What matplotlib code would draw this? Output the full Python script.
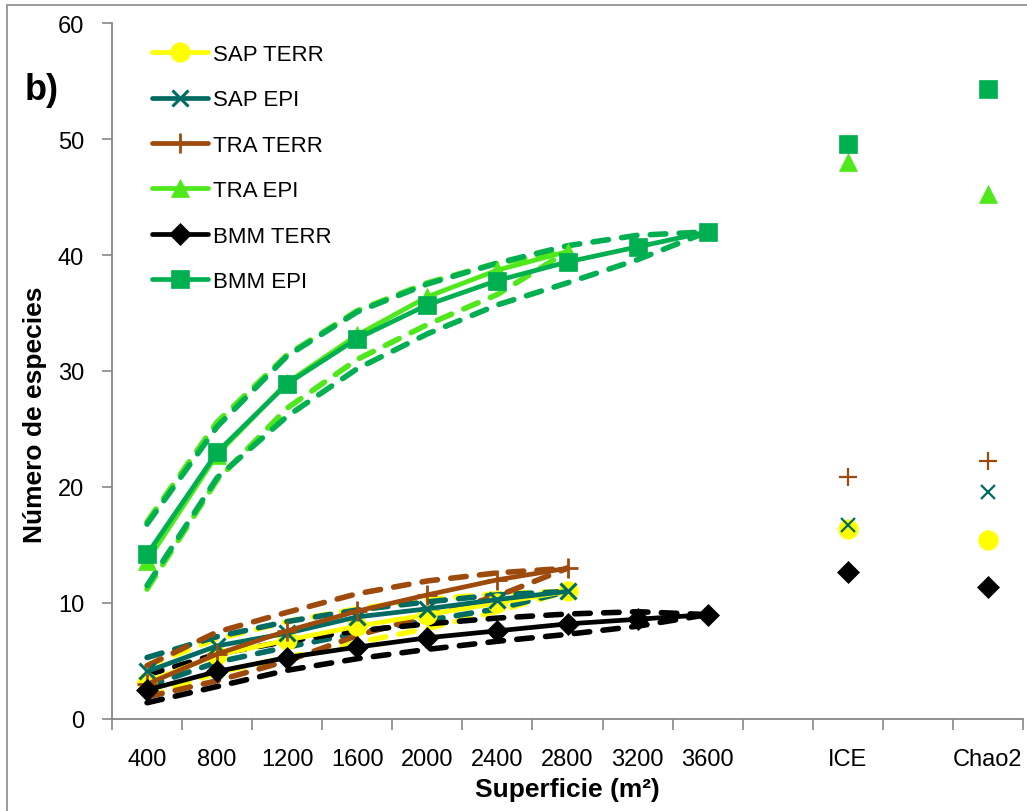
import matplotlib
matplotlib.use("Agg")
import matplotlib.pyplot as plt
from matplotlib.patches import Rectangle

plt.rcParams["font.family"] = ["Liberation Sans", "DejaVu Sans"]

# ── Data ──────────────────────────────────────────────────────────────────
categories = ["400", "800", "1200", "1600", "2000", "2400", "2800",
              "3200", "3600", "", "ICE", "", "Chao2"]
ice_pos, chao_pos = 10, 12

series_names = ["SAP TERR", "SAP EPI", "TRA TERR", "TRA EPI", "BMM TERR", "BMM EPI"]

sap_terr       = [3.2, 5.5, 6.8, 8.0, 9.0, 10.0, 11.0]
sap_terr_upper = [4.6, 6.9, 8.4, 9.5, 10.3, 10.8, 11.0]
sap_terr_lower = [1.9, 4.0, 5.3, 6.6, 7.8, 9.3, 11.0]

sap_epi       = [4.1, 6.3, 7.4, 8.8, 9.5, 10.3, 11.0]
sap_epi_upper = [5.3, 7.1, 8.4, 9.4, 10.1, 10.7, 11.0]
sap_epi_lower = [2.8, 4.9, 6.2, 7.4, 8.5, 9.5, 11.0]

tra_terr       = [3.0, 5.6, 7.6, 9.3, 10.7, 12.0, 13.0]
tra_terr_upper = [4.6, 7.5, 9.2, 10.8, 11.9, 12.6, 13.0]
tra_terr_lower = [1.9, 3.3, 5.0, 7.2, 8.9, 10.6, 13.0]

tra_epi       = [13.6, 22.8, 29.0, 33.1, 36.4, 38.7, 40.3]
tra_epi_upper = [17.0, 25.6, 31.4, 35.2, 37.6, 39.3, 40.3]
tra_epi_lower = [11.2, 20.6, 26.8, 31.0, 34.0, 36.6, 40.3]

bmm_terr       = [2.5, 4.1, 5.3, 6.2, 7.0, 7.6, 8.2, 8.6, 9.0]
bmm_terr_upper = [3.8, 5.6, 6.7, 7.6, 8.2, 8.7, 9.05, 9.25, 9.0]
bmm_terr_lower = [1.4, 2.8, 4.2, 5.2, 6.0, 6.7, 7.3, 8.0, 9.0]

bmm_epi       = [14.2, 23.0, 28.9, 32.8, 35.7, 37.8, 39.4, 40.7, 42.0]
bmm_epi_upper = [16.8, 25.2, 31.3, 35.1, 37.5, 39.3, 40.8, 41.7, 42.0]
bmm_epi_lower = [11.5, 20.8, 26.1, 30.2, 33.2, 35.7, 37.6, 39.6, 42.0]

# estimators, same order as series_names
ice_values   = [16.4, 16.7, 20.9, 48.0, 12.7, 49.6]
chao2_values = [15.4, 19.6, 22.2, 45.3, 11.4, 54.3]

# ── Style ─────────────────────────────────────────────────────────────────
COLORS  = ["#FFFF00", "#006B63", "#9E4A0C", "#4FE81A", "#000000", "#00B050"]
MARKERS = ["o", "x", "+", "^", "D", "s"]
MSIZES  = [14, 12, 15, 13, 11, 13]
MEWS    = [0, 2.2, 2.0, 0, 0, 0]
AXIS_COL = "#878787"

means  = [sap_terr, sap_epi, tra_terr, tra_epi, bmm_terr, bmm_epi]
uppers = [sap_terr_upper, sap_epi_upper, tra_terr_upper, tra_epi_upper,
          bmm_terr_upper, bmm_epi_upper]
lowers = [sap_terr_lower, sap_epi_lower, tra_terr_lower, tra_epi_lower,
          bmm_terr_lower, bmm_epi_lower]

fig = plt.figure(figsize=(10.27, 8.12), dpi=100)
ax = fig.add_axes([112 / 1027, 1 - 720 / 812, 911 / 1027, 696 / 812])

# dashed confidence bands first
for col, up, lo in zip(COLORS, uppers, lowers):
    for band in (up, lo):
        ax.plot(range(len(band)), band, color=col, lw=4,
                dashes=(2.8, 2.4), dash_capstyle="round", zorder=2)

# solid accumulation curves with markers
for i, (name, col, mk, ms, mew, y) in enumerate(
        zip(series_names, COLORS, MARKERS, MSIZES, MEWS, means)):
    ax.plot(range(len(y)), y, color=col, lw=3.4, marker=mk, markersize=ms,
            markeredgewidth=mew if mew else 0.5,
            markeredgecolor=col, markerfacecolor=col,
            solid_joinstyle="round", solid_capstyle="round",
            label=name, zorder=3 + i)
    # ICE and Chao2 estimates
    mk_small = ms - 2 if mk in ("x", "+") else ms
    ax.plot([ice_pos, chao_pos], [ice_values[i], chao2_values[i]],
            ls="none", marker=mk, markersize=mk_small,
            markeredgewidth=(1.6 if mew else 0.5),
            markeredgecolor=col, markerfacecolor=col, zorder=3 + i)

# ── Axes ──────────────────────────────────────────────────────────────────
ax.set_xlim(-0.5, len(categories) - 0.5)
ax.set_ylim(0, 60)
ax.set_yticks(range(0, 61, 10))
ax.set_xticks(range(len(categories)))
ax.set_xticklabels(categories)
ax.set_xticks([k - 0.5 for k in range(len(categories) + 1)], minor=True)

ax.tick_params(axis="x", which="major", length=0, pad=21, labelsize=17)
ax.tick_params(axis="x", which="minor", length=8, width=1.2, color=AXIS_COL)
ax.tick_params(axis="y", which="major", length=7, width=1.2, color=AXIS_COL,
               labelsize=17, pad=13)

for side in ("top", "right"):
    ax.spines[side].set_visible(False)
for side in ("left", "bottom"):
    ax.spines[side].set_color(AXIS_COL)
    ax.spines[side].set_linewidth(1.3)

ax.set_xlabel("Superficie (m²)", fontsize=19, fontweight="bold", labelpad=5)
fig.text(35 / 1027, 1 - 415 / 812, "Número de especies", rotation=90,
         ha="center", va="center", fontsize=19, fontweight="bold")
fig.text(42 / 1027, 1 - 90 / 812, "b)", ha="center", va="center",
         fontsize=26, fontweight="bold")

leg = ax.legend(loc="upper left", bbox_to_anchor=(0.044, 0.97),
                frameon=False, fontsize=16, handlelength=2.5,
                handletextpad=0.25, labelspacing=1.1,
                borderpad=0, borderaxespad=0)

# thin chart-area border (right and bottom edges fall outside the image)
fig.patches.append(Rectangle((6.5 / 1027, -0.1), 1.2, 1.1 - 5.5 / 812,
                             transform=fig.transFigure, fill=False,
                             edgecolor="#8a8a8a", lw=1.2))

fig.savefig("out.png", dpi=100)
